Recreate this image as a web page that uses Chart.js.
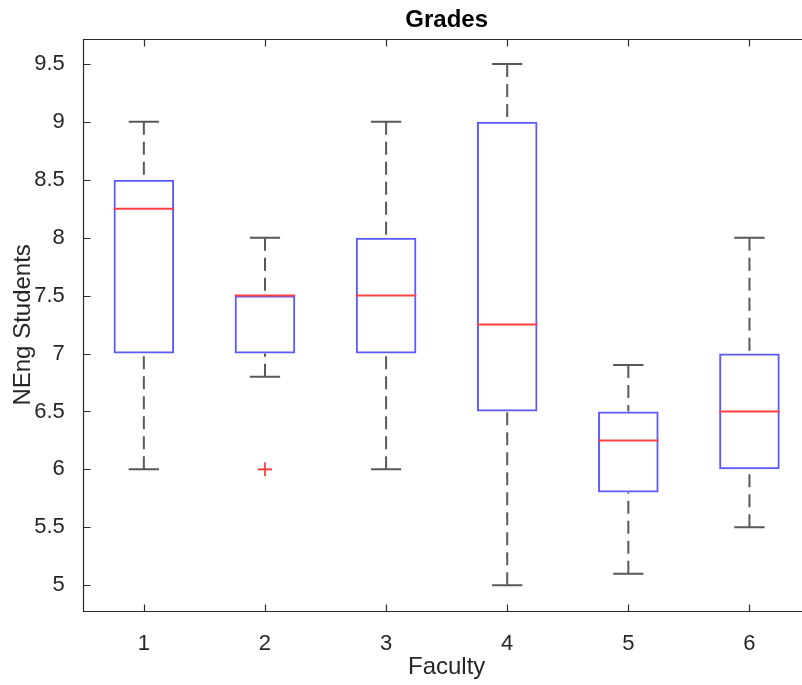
<!DOCTYPE html>
<html>
<head>
<meta charset="utf-8">
<script src="https://cdn.jsdelivr.net/npm/chart.js@4.4.1/dist/chart.umd.min.js"></script>
<style>
  html, body { margin: 0; padding: 0; background: #fff; overflow: hidden; }
  #wrap { width: 802px; height: 685px; overflow: hidden; position: relative; }
</style>
</head>
<body>
<div id="wrap"><canvas id="grades" width="812" height="685"></canvas></div>
<script>
// Boxplot values per faculty
const faculties = [1, 2, 3, 4, 5, 6];
const lowerWhisker = [6, 6.8, 6, 5, 5.1, 5.5];
const q1 = [7, 7, 7, 6.5, 5.8, 6];
const medians = [8.25, 7.5, 7.5, 7.25, 6.25, 6.5];
const q3 = [8.5, 7.5, 8, 9, 6.5, 7];
const upperWhisker = [9, 8, 9, 9.5, 6.9, 8];
const outlierFaculty = [2];
const outlierGrade = [6];
const yTicks = [5, 5.5, 6, 6.5, 7, 7.5, 8, 8.5, 9, 9.5];

const FONT = "'Liberation Sans', Arial, Helvetica, sans-serif";
const boxHalf = 0.25;   // box is half a category wide
const capHalf = 0.125;  // whisker caps are a quarter wide

// Build line segments from the data (null points break the line)
const whiskerPts = [];
const capPts = [];
const medianPts = [];
faculties.forEach((f, i) => {
  whiskerPts.push({x: f, y: upperWhisker[i]}, {x: f, y: q3[i]}, {x: f, y: null});
  whiskerPts.push({x: f, y: lowerWhisker[i]}, {x: f, y: q1[i]}, {x: f, y: null});
  capPts.push({x: f - capHalf, y: upperWhisker[i]}, {x: f + capHalf, y: upperWhisker[i]}, {x: f, y: null});
  capPts.push({x: f - capHalf, y: lowerWhisker[i]}, {x: f + capHalf, y: lowerWhisker[i]}, {x: f, y: null});
  medianPts.push({x: f - boxHalf, y: medians[i]}, {x: f + boxHalf, y: medians[i]}, {x: f, y: null});
});

// MATLAB style axes box with inward ticks
const matlabAxes = {
  id: 'matlabAxes',
  afterDraw(chart) {
    const {ctx, chartArea: a, scales: {x, y}} = chart;
    const L = Math.round(a.left) + 0.5, R = Math.round(a.right) + 0.5;
    const T = Math.round(a.top) + 0.5, B = Math.round(a.bottom) + 0.5;
    ctx.save();
    ctx.strokeStyle = '#2b2b2b';
    ctx.lineWidth = 1.2;
    ctx.beginPath();
    ctx.moveTo(L, T); ctx.lineTo(R, T); ctx.lineTo(R, B); ctx.lineTo(L, B); ctx.closePath();
    x.ticks.forEach(t => {
      const px = Math.round(x.getPixelForValue(t.value)) + 0.5;
      ctx.moveTo(px, B); ctx.lineTo(px, B - 7);
      ctx.moveTo(px, T); ctx.lineTo(px, T + 7);
    });
    y.ticks.forEach(t => {
      const py = Math.round(y.getPixelForValue(t.value)) + 0.5;
      ctx.moveTo(L, py); ctx.lineTo(L + 7, py);
      ctx.moveTo(R, py); ctx.lineTo(R - 7, py);
    });
    ctx.stroke();
    ctx.restore();
  }
};

new Chart(document.getElementById('grades'), {
  type: 'scatter',
  data: {
    datasets: [{
      type: 'scatter',
      label: 'Outliers',
      data: outlierFaculty.map((f, i) => ({x: f, y: outlierGrade[i]})),
      pointStyle: 'cross',
      pointRadius: 7,
      borderColor: '#ff2a2a',
      borderWidth: 1.6,
      order: 0
    }, {
      type: 'scatter',
      label: 'Median',
      data: medianPts,
      showLine: true,
      pointRadius: 0,
      borderColor: '#ff4040',
      borderWidth: 2,
      order: 1
    }, {
      type: 'bar',
      label: 'Box',
      data: faculties.map((f, i) => ({x: f, y: [q1[i], q3[i]]})),
      backgroundColor: 'rgba(0,0,0,0)',
      borderColor: '#5a5aff',
      borderWidth: 2,
      borderSkipped: false,
      barPercentage: 0.5,
      categoryPercentage: 1,
      order: 2
    }, {
      type: 'scatter',
      label: 'Caps',
      data: capPts,
      showLine: true,
      pointRadius: 0,
      borderColor: '#585858',
      borderWidth: 2,
      order: 3
    }, {
      type: 'scatter',
      label: 'Whiskers',
      data: whiskerPts,
      showLine: true,
      pointRadius: 0,
      borderColor: '#585858',
      borderWidth: 2,
      borderDash: [13, 7],
      order: 4
    }]
  },
  options: {
    responsive: false,
    animation: false,
    events: [],
    layout: { autoPadding: false, padding: { left: 0, right: 2, top: 0, bottom: 0 } },
    plugins: {
      legend: { display: false },
      tooltip: { enabled: false },
      title: {
        display: true,
        fullSize: false,
        text: 'Grades',
        color: '#000',
        font: { family: FONT, size: 24, weight: 'bold' },
        padding: { top: 6, bottom: 4.2 }
      }
    },
    scales: {
      x: {
        type: 'linear',
        min: 0.5,
        max: 6.5,
        offset: false,
        grid: { display: false },
        border: { display: false },
        afterBuildTicks: s => { s.ticks = faculties.map(v => ({value: v})); },
        afterFit: s => { s.height = 74.3; s.paddingLeft = 0; s.paddingRight = 0; },
        ticks: {
          color: '#262626',
          font: { family: FONT, size: 22 },
          padding: 12,
          autoSkip: false,
          maxRotation: 0,
          callback: v => String(v)
        },
        title: {
          display: true,
          text: 'Faculty',
          color: '#262626',
          font: { family: FONT, size: 24 },
          padding: { top: 0, bottom: 3.6 }
        }
      },
      y: {
        type: 'linear',
        min: 4.78,
        max: 9.715,
        grid: { display: false },
        border: { display: false },
        afterBuildTicks: s => { s.ticks = yTicks.map(v => ({value: v})); },
        afterFit: s => { s.width = 83.3; s.paddingTop = 0; s.paddingBottom = 0; },
        ticks: {
          color: '#262626',
          font: { family: FONT, size: 22 },
          padding: 10.5,
          autoSkip: false,
          callback: v => String(v)
        },
        title: {
          display: true,
          text: 'NEng Students',
          color: '#262626',
          font: { family: FONT, size: 24 },
          padding: { top: 8.6, bottom: 0 }
        }
      }
    }
  },
  plugins: [matlabAxes]
});
</script>
</body>
</html>
